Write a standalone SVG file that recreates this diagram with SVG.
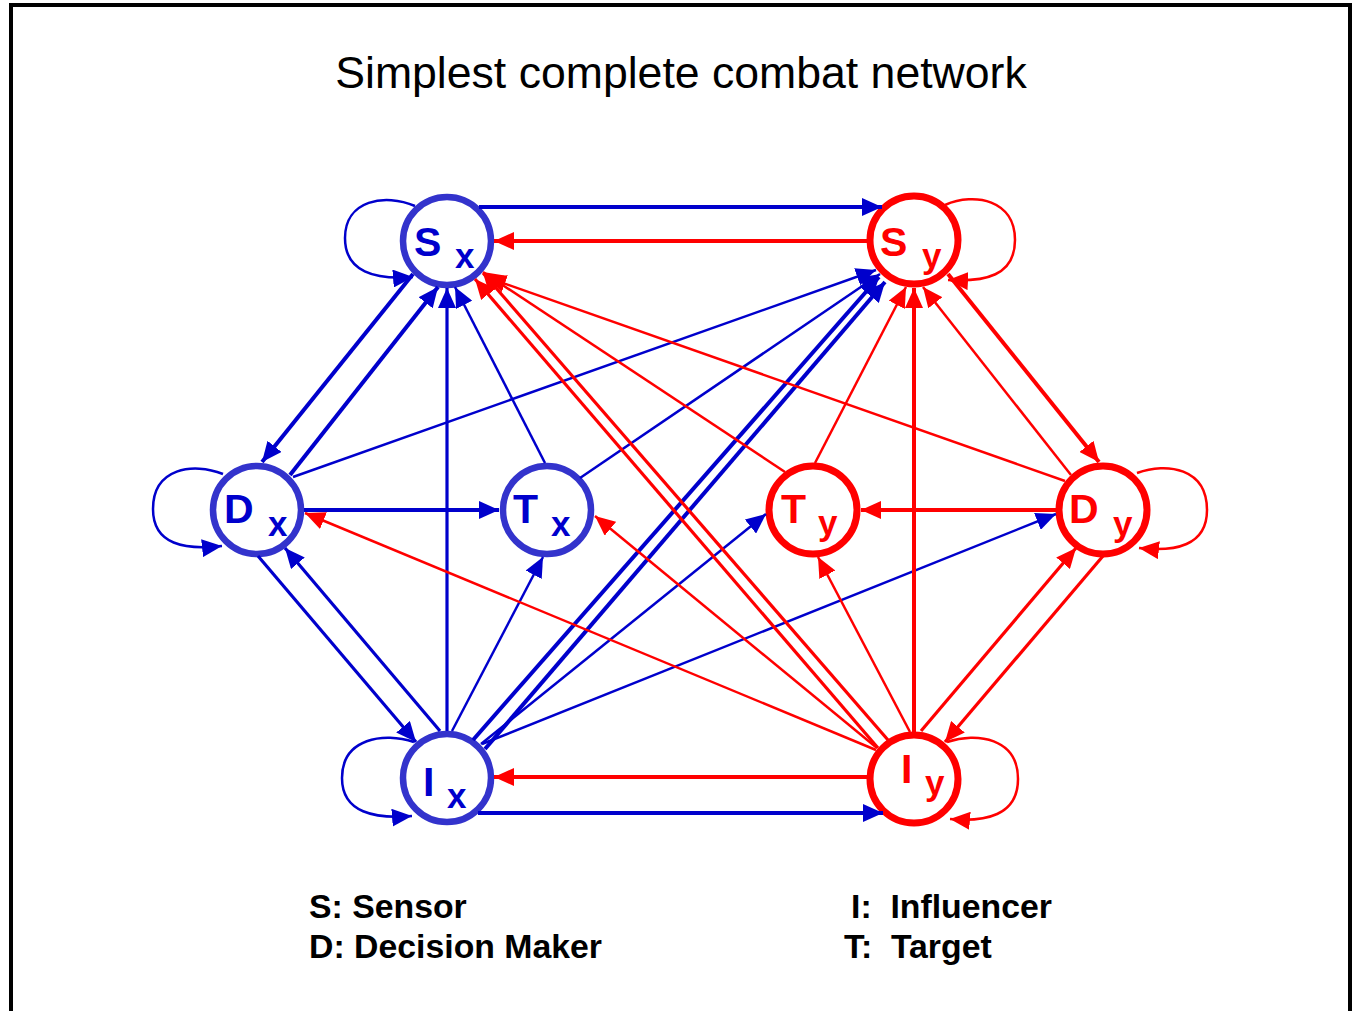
<svg xmlns="http://www.w3.org/2000/svg" width="1352" height="1011" viewBox="0 0 1352 1011">
<style>
.frame{fill:none;stroke:#000;stroke-width:4}
.title{font-family:"Liberation Sans",Arial,sans-serif;font-size:44.6px;fill:#000}
.legend{font-family:"Liberation Sans",Arial,sans-serif;font-size:33.8px;font-weight:bold;fill:#000;white-space:pre}
.nb{fill:#fff;stroke:#3333CC;stroke-width:6.5}
.nr{fill:#fff;stroke:#FF0000;stroke-width:7}
.lb{font-family:"Liberation Sans",Arial,sans-serif;font-weight:bold;fill:#0000CC}
.lr{font-family:"Liberation Sans",Arial,sans-serif;font-weight:bold;fill:#FF0000}
.m{font-size:41px}
.s{font-size:35px}
.b{fill:none;stroke:#0000CC;marker-end:url(#ab)}
.r{fill:none;stroke:#FF0000;marker-end:url(#ar)}
.t1{stroke-width:4}
.t2{stroke-width:3.2}
.t3{stroke-width:2.5}
</style>
<defs>
<marker id="ab" markerUnits="userSpaceOnUse" markerWidth="20" markerHeight="18" refX="20" refY="9" orient="auto"><path d="M0,0 L20,9 L0,18 z" fill="#0000CC"/></marker>
<marker id="ar" markerUnits="userSpaceOnUse" markerWidth="20" markerHeight="18" refX="20" refY="9" orient="auto"><path d="M0,0 L20,9 L0,18 z" fill="#FF0000"/></marker>
</defs>
<rect class="frame" x="11" y="5" width="1339" height="1030"/>
<text class="title" x="681" y="88" text-anchor="middle">Simplest complete combat network</text>

<g id="node-Sx"><circle class="nb" cx="447" cy="241" r="44"/><text class="lb m" x="414" y="256">S</text><text class="lb s" x="455" y="268">x</text></g>
<g id="node-Sy"><circle class="nr" cx="914" cy="240" r="44"/><text class="lr m" x="880" y="256">S</text><text class="lr s" x="922" y="268">y</text></g>
<g id="node-Dx"><circle class="nb" cx="257" cy="510" r="44"/><text class="lb m" x="224" y="523">D</text><text class="lb s" x="268" y="536">x</text></g>
<g id="node-Tx"><circle class="nb" cx="547" cy="510" r="44"/><text class="lb m" x="513" y="523">T</text><text class="lb s" x="551" y="536">x</text></g>
<g id="node-Ty"><circle class="nr" cx="813" cy="510" r="44"/><text class="lr m" x="781" y="523">T</text><text class="lr s" x="818" y="535">y</text></g>
<g id="node-Dy"><circle class="nr" cx="1103" cy="510" r="44"/><text class="lr m" x="1069" y="523">D</text><text class="lr s" x="1113" y="536">y</text></g>
<g id="node-Ix"><circle class="nb" cx="447" cy="778" r="44"/><text class="lb m" x="423" y="796">I</text><text class="lb s" x="447" y="808">x</text></g>
<g id="node-Iy"><circle class="nr" cx="914" cy="779" r="44"/><text class="lr m" x="901" y="783">I</text><text class="lr s" x="925" y="795">y</text></g>

<g id="connectors">
<!-- self loops -->
<path class="b t3" d="M415,206 C385,193 345,200 345,238 C345,272 375,280 413,277"/>
<path class="r t3" d="M945,205 C975,192 1015,200 1015,240 C1015,276 985,282 948,280"/>
<path class="b t3" d="M223,474 C193,462 153,468 153,509 C153,545 185,550 222,546"/>
<path class="r t3" d="M1137,473 C1167,462 1207,468 1207,510 C1207,546 1175,552 1139,548"/>
<path class="b t3" d="M414,742 C384,732 342,738 342,778 C342,813 375,819 412,816"/>
<path class="r t3" d="M947,742 C977,732 1018,738 1018,779 C1018,816 985,822 950,819"/>
<!-- horizontals -->
<path class="b t1" d="M479,207 L882,207"/>
<path class="r t1" d="M867,241 L494,241"/>
<path class="r t1" d="M867,777 L494,777"/>
<path class="b t1" d="M478,813 L883,813"/>
<path class="b t1" d="M304,510 L499,510"/>
<path class="r t1" d="M1056,510 L861,510"/>
<!-- blue -->
<path class="b t1" d="M413,274 L262,462"/>
<path class="b t1" d="M290,475 L438,287"/>
<path class="b t2" d="M258,556 L416,742"/>
<path class="b t2" d="M440,731 L285,548"/>
<path class="b t2" d="M447,731 L447,288"/>
<path class="b t3" d="M545,463 L455,287"/>
<path class="b t3" d="M452,731 L543,557"/>
<path class="b t3" d="M293,477 L876,270"/>
<path class="b t3" d="M580,478 L880,274"/>
<path class="b t1" d="M473,740 L879,277"/>
<path class="b t1" d="M485,749 L885,282"/>
<path class="b t3" d="M481,744 L766,514"/>
<path class="b t3" d="M482,744 L1056,514"/>
<!-- red -->
<path class="r t2" d="M888,740 L483,273"/>
<path class="r t2" d="M878,748 L475,279"/>
<path class="r t3" d="M785,472 L483,272"/>
<path class="r t3" d="M1065,481 L486,277"/>
<path class="r t3" d="M876,750 L305,513"/>
<path class="r t3" d="M877,748 L595,516"/>
<path class="r t3" d="M815,463 L906,287"/>
<path class="r t1" d="M914,732 L914,288"/>
<path class="r t3" d="M1071,475 L923,287"/>
<path class="r t1" d="M948,274 L1099,462"/>
<path class="r t3" d="M910,732 L818,557"/>
<path class="r t2" d="M921,731 L1076,548"/>
<path class="r t2" d="M1103,556 L945,742"/>
</g>

<text class="legend" x="309" y="918" xml:space="preserve">S: Sensor</text>
<text class="legend" x="309" y="958" xml:space="preserve">D: Decision Maker</text>
<text class="legend" x="851" y="918" xml:space="preserve">I:  Influencer</text>
<text class="legend" x="844" y="958" xml:space="preserve">T:  Target</text>
</svg>
